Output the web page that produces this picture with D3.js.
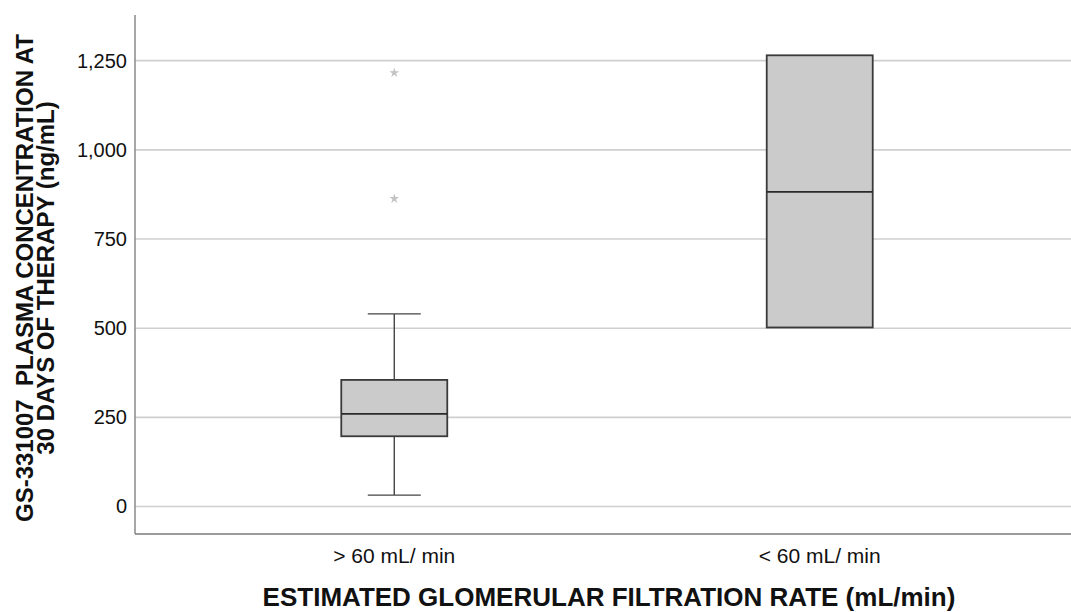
<!DOCTYPE html>
<html>
<head>
<meta charset="utf-8">
<script src="https://cdn.jsdelivr.net/npm/d3@7"></script>
<style>
  body { margin: 0; background: #fff; }
  svg { display: block; font-family: 'Liberation Sans', Arial, sans-serif; }
</style>
</head>
<body>
<svg id="chart" width="1071" height="612"></svg>
<script>
// values
const groups = ['> 60 mL/ min', '< 60 mL/ min'];
const whiskerLow = [32, 502];
const q1 = [197, 502];
const median = [260, 882];
const q3 = [355, 1265];
const whiskerHigh = [540, 1265];
const outliers = [
  {group: '> 60 mL/ min', value: 1216},
  {group: '> 60 mL/ min', value: 863}
];
const yTicks = [0, 250, 500, 750, 1000, 1250];
const yTitle = ['GS-331007  PLASMA CONCENTRATION AT', '30 DAYS OF THERAPY (ng/mL)'];
const xTitle = 'ESTIMATED GLOMERULAR FILTRATION RATE (mL/min)';

const boxes = groups.map((g, i) => ({
  group: g, lo: whiskerLow[i], q1: q1[i], med: median[i], q3: q3[i], hi: whiskerHigh[i]
}));

const svg = d3.select('#chart');
const plot = {left: 135, right: 1071, top: 15, bottom: 534};

const x = d3.scalePoint().domain(groups).range([139, 1075]).padding(0.6);
const y = d3.scaleLinear().domain([-77, 1378]).range([plot.bottom, plot.top]);
const boxW = 106;

// gridlines
svg.append('g')
  .selectAll('line')
  .data(yTicks)
  .join('line')
  .attr('x1', plot.left).attr('x2', plot.right)
  .attr('y1', d => y(d)).attr('y2', d => y(d))
  .attr('stroke', '#cfcfcf')
  .attr('stroke-width', 1.6);

// y axis
const yAxis = svg.append('g')
  .attr('transform', 'translate(' + plot.left + ',0)')
  .call(d3.axisLeft(y).tickValues(yTicks).tickFormat(d3.format(',')).tickSize(0).tickPadding(8));
yAxis.select('.domain').remove();
yAxis.selectAll('text')
  .attr('font-size', 20)
  .attr('fill', '#111')
  .attr('font-family', 'Liberation Sans, Arial, sans-serif');

svg.append('line')
  .attr('x1', plot.left).attr('x2', plot.left)
  .attr('y1', plot.top).attr('y2', plot.bottom)
  .attr('stroke', '#8a8a8a')
  .attr('stroke-width', 1.5);

// x axis
svg.append('line')
  .attr('x1', plot.left).attr('x2', plot.right)
  .attr('y1', plot.bottom).attr('y2', plot.bottom)
  .attr('stroke', '#7a7a7a')
  .attr('stroke-width', 1.6);

svg.append('g')
  .selectAll('text')
  .data(groups)
  .join('text')
  .attr('x', d => x(d))
  .attr('y', 563)
  .attr('text-anchor', 'middle')
  .attr('font-size', 21)
  .attr('fill', '#111')
  .text(d => d);

// boxes
const bx = svg.append('g')
  .selectAll('g')
  .data(boxes)
  .join('g');

bx.append('line')
  .attr('x1', d => x(d.group)).attr('x2', d => x(d.group))
  .attr('y1', d => y(d.lo)).attr('y2', d => y(d.q1))
  .attr('stroke', '#444').attr('stroke-width', 1.4);
bx.append('line')
  .attr('x1', d => x(d.group)).attr('x2', d => x(d.group))
  .attr('y1', d => y(d.q3)).attr('y2', d => y(d.hi))
  .attr('stroke', '#444').attr('stroke-width', 1.4);
bx.filter(d => d.lo < d.q1).append('line')
  .attr('x1', d => x(d.group) - boxW / 4).attr('x2', d => x(d.group) + boxW / 4)
  .attr('y1', d => y(d.lo)).attr('y2', d => y(d.lo))
  .attr('stroke', '#444').attr('stroke-width', 1.4);
bx.filter(d => d.hi > d.q3).append('line')
  .attr('x1', d => x(d.group) - boxW / 4).attr('x2', d => x(d.group) + boxW / 4)
  .attr('y1', d => y(d.hi)).attr('y2', d => y(d.hi))
  .attr('stroke', '#444').attr('stroke-width', 1.4);

bx.append('rect')
  .attr('x', d => x(d.group) - boxW / 2)
  .attr('width', boxW)
  .attr('y', d => y(d.q3))
  .attr('height', d => y(d.q1) - y(d.q3))
  .attr('fill', '#cbcbcb')
  .attr('stroke', '#3a3a3a')
  .attr('stroke-width', 1.8);

bx.append('line')
  .attr('x1', d => x(d.group) - boxW / 2).attr('x2', d => x(d.group) + boxW / 2)
  .attr('y1', d => y(d.med)).attr('y2', d => y(d.med))
  .attr('stroke', '#2a2a2a').attr('stroke-width', 1.7);

// outliers
svg.append('g')
  .selectAll('path')
  .data(outliers)
  .join('path')
  .attr('transform', d => 'translate(' + x(d.group) + ',' + y(d.value) + ')')
  .attr('d', d3.symbol(d3.symbolStar, 30))
  .attr('fill', '#c4c4c4');

// axis titles
svg.append('text')
  .attr('x', 609)
  .attr('y', 606)
  .attr('text-anchor', 'middle')
  .attr('font-size', 26)
  .attr('font-weight', 'bold')
  .attr('fill', '#111')
  .text(xTitle);

svg.append('g')
  .attr('transform', 'translate(0,278) rotate(-90)')
  .selectAll('text')
  .data(yTitle)
  .join('text')
  .attr('x', 0)
  .attr('y', (d, i) => 33 + i * 21)
  .attr('text-anchor', 'middle')
  .attr('font-size', 24)
  .attr('font-weight', 'bold')
  .attr('fill', '#111')
  .style('white-space', 'pre')
  .text(d => d);
</script>
</body>
</html>
